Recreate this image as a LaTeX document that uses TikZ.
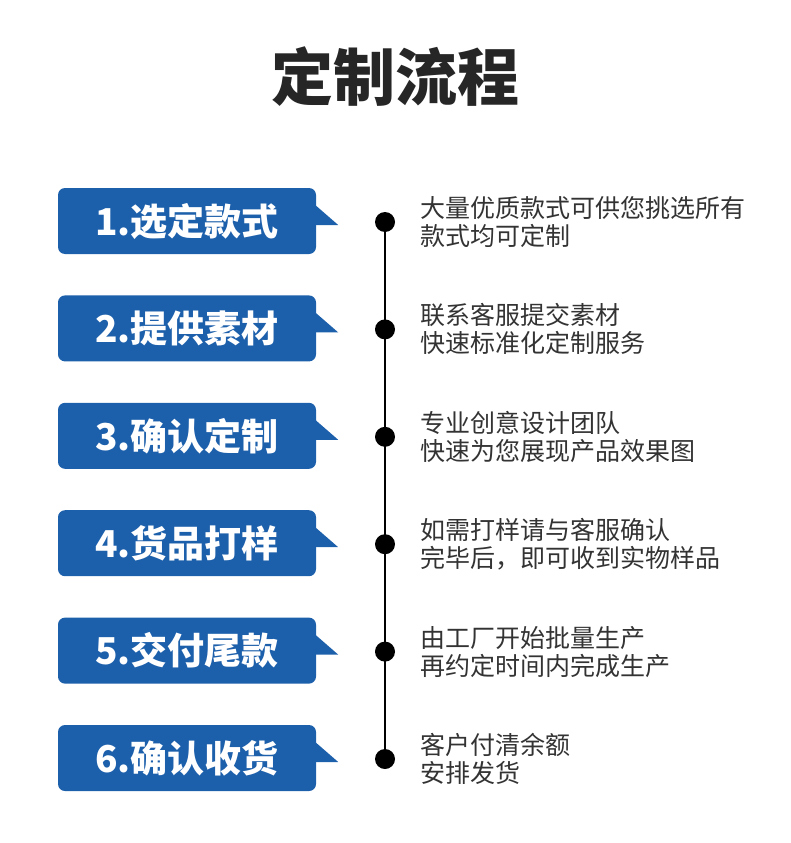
\documentclass[tikz,border=0pt]{standalone}
\usepackage{fontspec}
\setmainfont{Noto Sans CJK SC}
\newfontfamily\cjk{Noto Sans CJK SC}
\usepackage{tikz}
\usetikzlibrary{positioning, calc}
\definecolor{boxblue}{HTML}{1C5FAB}
\definecolor{inkgray}{HTML}{333333}
\definecolor{titlegray}{HTML}{262626}

\tikzset{
    title/.style={text=titlegray, font=\cjk\bfseries\fontsize{62}{68}\selectfont},
    stepbox/.style={fill=boxblue, rounded corners=7pt, minimum width=258pt, minimum height=66pt,
        text=white, font=\cjk\bfseries\fontsize{37}{42}\selectfont, inner sep=0pt},
    dot/.style={circle, fill=black, minimum size=20pt, inner sep=0pt},
    desc/.style={anchor=west, align=left, text=inkgray, inner sep=0pt,
        font=\cjk\fontsize{25}{28}\selectfont}
}

\begin{document}
\begin{tikzpicture}[x=1pt, y=-1pt]
\useasboundingbox (0,0) rectangle (790,843);
\node[title] (title) at (395,77) {定制流程};
\foreach \i/\stepname/\lineA/\lineB in {
    1/选定款式/大量优质款式可供您挑选所有/款式均可定制,
    2/提供素材/联系客服提交素材/快速标准化定制服务,
    3/确认定制/专业创意设计团队/快速为您展现产品效果图,
    4/货品打样/如需打样请与客服确认/完毕后，即可收到实物样品,
    5/交付尾款/由工厂开始批量生产/再约定时间内完成生产,
    6/确认收货/客户付清余额/安排发货}
{
    \pgfmathsetmacro\yy{221+107.4*(\i-1)}
    \node[stepbox] (box\i) at (187,\yy) {\i.\stepname};
    \fill[boxblue] ([xshift=-1pt, yshift=16pt]box\i.east) -- ++(23,20) -- ++(-23,0) -- cycle;
    \node[dot] (dot\i) at (385,\yy+1) {};
    \node[desc] (desc\i) at (420,\yy+1) {\lineA\\\lineB};
}
\draw[line width=2pt] (dot1) -- (dot6);
\end{tikzpicture}
\end{document}
